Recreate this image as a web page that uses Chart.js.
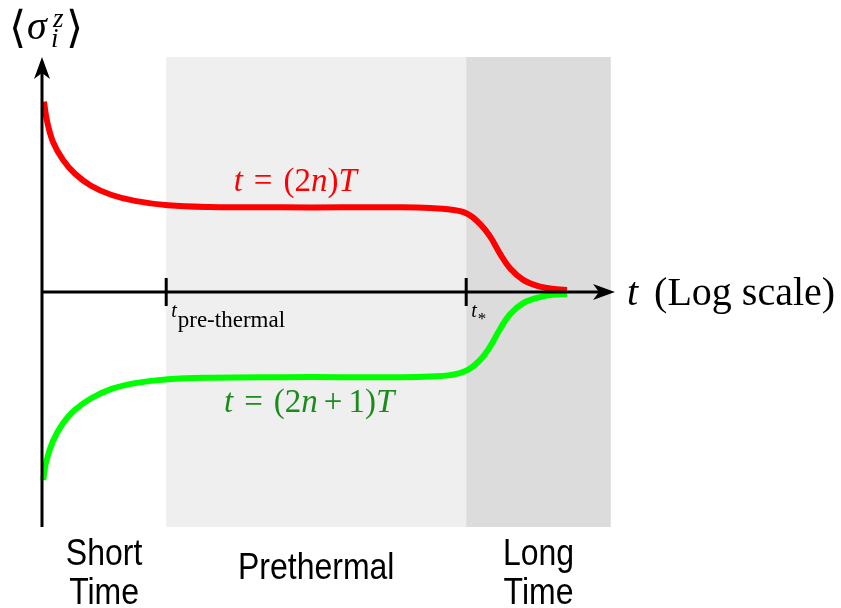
<!DOCTYPE html>
<html>
<head>
<meta charset="utf-8">
<script src="https://cdn.jsdelivr.net/npm/chart.js@4"></script>
<style>
  html, body { margin: 0; padding: 0; background: #fff; }
  #wrap { width: 841px; height: 608px; }
</style>
</head>
<body>
<div id="wrap"><canvas id="myChart" width="841" height="608"></canvas></div>
<script>
// time axis is log10(t) in arbitrary units, value is <sigma_i^z>
const redT   = [0.033, 0.083, 0.183, 0.35, 0.55, 0.817, 1.15, 1.55, 2.1, 2.8, 4, 5, 6, 6.47, 6.8, 7.08, 7.3, 7.47, 7.63, 7.8, 8.02, 8.3, 8.58, 8.75];
const redVal = [1.118, 1.006, 0.882, 0.776, 0.694, 0.624, 0.571, 0.535, 0.509, 0.499, 0.497, 0.497, 0.497, 0.493, 0.484, 0.461, 0.40, 0.325, 0.227, 0.139, 0.071, 0.031, 0.016, 0.012];

const greenT   = [0.02, 0.07, 0.18, 0.35, 0.55, 0.82, 1.16, 1.55, 2.1, 2.8, 4, 5, 6, 6.47, 6.8, 7.08, 7.3, 7.47, 7.63, 7.8, 8.02, 8.3, 8.58, 8.75];
const greenVal = [-1.104, -0.996, -0.878, -0.771, -0.692, -0.624, -0.569, -0.535, -0.512, -0.503, -0.5, -0.5, -0.5, -0.496, -0.488, -0.46, -0.40, -0.32, -0.22, -0.13, -0.065, -0.03, -0.014, -0.012];

// shaded time regimes
const shadeFrom  = [2.07, 7.07];
const shadeTo    = [7.07, 9.48];
const shadeColor = ['#efefef', '#dcdcdc'];

// regime names under the axis
const regimeFrom  = [0, 2.07, 7.07];
const regimeTo    = [2.07, 7.07, 9.48];
const regimeNames = [['Short', 'Time'], ['Prethermal'], ['Long', 'Time']];

// marked times on the t axis
const tickAt   = [2.07, 7.07];
const tickSubs = ['pre-thermal', '*'];

const xMax = 9.5;
const arrowX = 9.55;
const yLim = 1.38;

const SERIF = '"Liberation Serif", "DejaVu Serif", serif';
const SANS = '"Liberation Sans", Arial, sans-serif';

function toXY(xs, ys) {
    return xs.map((x, i) => ({ x: x, y: ys[i] }));
}

// draw a row of text pieces (each with its own font / offset)
function drawRuns(ctx, runs, x, y, align, color) {
    ctx.save();
    ctx.fillStyle = color || '#000';
    ctx.textBaseline = 'alphabetic';
    ctx.textAlign = 'left';
    let total = 0;
    runs.forEach(r => {
        ctx.font = r.f;
        r.w = ctx.measureText(r.t).width + (r.gap || 0);
        total += r.w;
    });
    let cx = x;
    if (align === 'center') cx = x - total / 2;
    if (align === 'right') cx = x - total;
    runs.forEach(r => {
        ctx.font = r.f;
        ctx.fillText(r.t, cx, y + (r.dy || 0));
        cx += r.w;
    });
    ctx.restore();
}

function arrowHead(ctx, tipX, tipY, dir) {
    const len = 22, half = 8, notch = 6;
    ctx.beginPath();
    if (dir === 'up') {
        ctx.moveTo(tipX, tipY);
        ctx.lineTo(tipX - half, tipY + len);
        ctx.lineTo(tipX, tipY + len - notch);
        ctx.lineTo(tipX + half, tipY + len);
    } else {
        ctx.moveTo(tipX, tipY);
        ctx.lineTo(tipX - len, tipY - half);
        ctx.lineTo(tipX - len + notch, tipY);
        ctx.lineTo(tipX - len, tipY + half);
    }
    ctx.closePath();
    ctx.fill();
}

const regimePlugin = {
    id: 'regimes',
    beforeDatasetsDraw(chart) {
        const { ctx, chartArea, scales } = chart;
        ctx.save();
        shadeFrom.forEach((x0, i) => {
            const px0 = scales.x.getPixelForValue(x0);
            const px1 = scales.x.getPixelForValue(shadeTo[i]);
            ctx.fillStyle = shadeColor[i];
            ctx.fillRect(px0, chartArea.top, px1 - px0, chartArea.bottom - chartArea.top);
        });
        ctx.restore();
    },
    afterDatasetsDraw(chart) {
        const { ctx, chartArea, scales } = chart;
        const x0 = scales.x.getPixelForValue(0);
        const y0 = scales.y.getPixelForValue(0);
        const xEnd = scales.x.getPixelForValue(arrowX);

        ctx.save();
        ctx.strokeStyle = '#000';
        ctx.fillStyle = '#000';
        ctx.lineWidth = 3;

        // vertical axis
        ctx.beginPath();
        ctx.moveTo(x0, chartArea.bottom);
        ctx.lineTo(x0, chartArea.top + 16);
        ctx.stroke();
        arrowHead(ctx, x0, chartArea.top, 'up');

        // horizontal (time) axis
        ctx.beginPath();
        ctx.moveTo(x0, y0);
        ctx.lineTo(xEnd - 16, y0);
        ctx.stroke();
        arrowHead(ctx, xEnd, y0, 'right');

        // tick marks
        tickAt.forEach(t => {
            const px = scales.x.getPixelForValue(t);
            ctx.beginPath();
            ctx.moveTo(px, y0 - 14);
            ctx.lineTo(px, y0 + 14);
            ctx.stroke();
        });
        ctx.restore();

        // tick labels
        tickAt.forEach((t, i) => {
            const px = scales.x.getPixelForValue(t);
            const sub = tickSubs[i];
            const star = sub === '*';
            drawRuns(ctx, [
                { t: 't', f: 'italic 20px ' + SERIF, gap: 1 },
                { t: sub, f: (star ? '17px ' : '23px ') + SERIF, dy: star ? 7 : 10 }
            ], px + 5, y0 + 25, 'left', '#000');
        });

        // axis titles
        drawRuns(ctx, [
            { t: 't', f: 'italic 40px ' + SERIF, gap: 16 },
            { t: '(Log scale)', f: '40px ' + SERIF }
        ], xEnd + 12, y0 + 13, 'left', '#000');

        ctx.save();
        ctx.fillStyle = '#000';
        ctx.textBaseline = 'alphabetic';
        ctx.font = '44px ' + SERIF;
        ctx.fillText('\u27E8', 9, 42);
        ctx.font = 'italic 40px ' + SERIF;
        ctx.fillText('\u03C3', 27, 39);
        ctx.font = 'italic 27px ' + SERIF;
        ctx.fillText('z', 53, 27);
        ctx.fillText('i', 51, 47);
        ctx.font = '44px ' + SERIF;
        ctx.fillText('\u27E9', 66, 42);
        ctx.restore();

        // curve labels
        const midT = (tickAt[0] + tickAt[1]) / 2;
        const pxMid = scales.x.getPixelForValue(midT);
        drawRuns(ctx, [
            { t: 't', f: 'italic 33px ' + SERIF, gap: 11 },
            { t: '=', f: '33px ' + SERIF, gap: 11 },
            { t: '(2', f: '33px ' + SERIF },
            { t: 'n', f: 'italic 33px ' + SERIF },
            { t: ')', f: '33px ' + SERIF },
            { t: 'T', f: 'italic 33px ' + SERIF }
        ], pxMid - 21, scales.y.getPixelForValue(redVal[11]) - 16, 'center', '#ff0000');

        drawRuns(ctx, [
            { t: 't', f: 'italic 33px ' + SERIF, gap: 11 },
            { t: '=', f: '33px ' + SERIF, gap: 11 },
            { t: '(2', f: '33px ' + SERIF },
            { t: 'n', f: 'italic 33px ' + SERIF, gap: 6 },
            { t: '+', f: '33px ' + SERIF, gap: 6 },
            { t: '1)', f: '33px ' + SERIF },
            { t: 'T', f: 'italic 33px ' + SERIF }
        ], pxMid - 7, scales.y.getPixelForValue(greenVal[11]) + 35, 'center', '#1a8c1a');

        // regime names below the plot (the face is a little tall and narrow)
        regimeNames.forEach((lines, i) => {
            const cx = scales.x.getPixelForValue((regimeFrom[i] + regimeTo[i]) / 2);
            const rows = lines.length === 1
                ? [chartArea.bottom + 52]
                : [chartArea.bottom + 38, chartArea.bottom + 77];
            lines.forEach((txt, k) => {
                ctx.save();
                ctx.translate(cx, rows[k]);
                ctx.scale(1, 1.15);
                ctx.fillStyle = '#000';
                ctx.font = '32px ' + SANS;
                ctx.textAlign = 'center';
                ctx.textBaseline = 'alphabetic';
                ctx.fillText(txt, 0, 0);
                ctx.restore();
            });
        });
    }
};

const ctx = document.getElementById('myChart');

const myChart = new Chart(ctx, {
    type: 'line',
    data: {
        datasets: [
            {
                data: toXY(redT, redVal),
                borderColor: '#ff0000',
                borderWidth: 6,
                pointRadius: 0,
                tension: 0.4,
                clip: false
            },
            {
                data: toXY(greenT, greenVal),
                borderColor: '#00ff00',
                borderWidth: 6,
                pointRadius: 0,
                tension: 0.4,
                clip: false
            }
        ]
    },
    options: {
        responsive: false,
        animation: false,
        layout: { padding: { left: 42, right: 229, top: 57, bottom: 81 } },
        scales: {
            x: { type: 'linear', min: 0, max: xMax, display: false },
            y: { type: 'linear', min: -yLim, max: yLim, display: false }
        },
        plugins: {
            legend: { display: false },
            tooltip: { enabled: false }
        }
    },
    plugins: [regimePlugin]
});
</script>
</body>
</html>
